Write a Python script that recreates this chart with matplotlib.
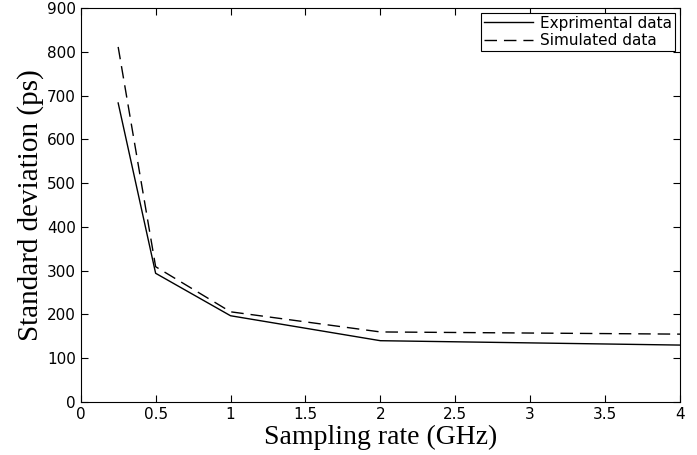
import matplotlib
matplotlib.use("Agg")
import matplotlib.pyplot as plt

# data
rate = [0.25, 0.5, 1, 2, 4]
exp_std = [683, 294, 197, 140, 130]
sim_std = [811, 309, 206, 160, 155]

xticks = [0, 0.5, 1, 1.5, 2, 2.5, 3, 3.5, 4]
xlabels = ["0", "0.5", "1", "1.5", "2", "2.5", "3", "3.5", "4"]
yticks = [0, 100, 200, 300, 400, 500, 600, 700, 800, 900]

fig = plt.figure(figsize=(6.97, 4.55), dpi=100)
ax = fig.add_axes([0.1158, 0.1165, 0.8598, 0.866])

ax.plot(rate, exp_std, color="black", lw=1.0, label="Exprimental data")
ax.plot(rate, sim_std, color="black", lw=1.0, ls=(0, (9, 5)), label="Simulated data")

ax.set_xlim(0, 4)
ax.set_ylim(0, 900)
ax.set_xticks(xticks)
ax.set_xticklabels(xlabels)
ax.set_yticks(yticks)
ax.tick_params(direction="in", length=5, labelsize=11, top=True, right=True)
for s in ax.spines.values():
    s.set_linewidth(0.8)

ax.set_xlabel("Sampling rate (GHz)", family="Liberation Serif", fontsize=20,
              labelpad=2)
ax.set_ylabel("Standard deviation (ps)", family="Liberation Serif", fontsize=21,
              labelpad=2)

leg = ax.legend(loc="upper right", fontsize=11, fancybox=False, framealpha=1,
                edgecolor="black", borderaxespad=0.3, handlelength=3.2,
                borderpad=0.2, labelspacing=0.15, handletextpad=0.5)
leg.get_frame().set_linewidth(0.8)

fig.savefig("out.png", dpi=100)
